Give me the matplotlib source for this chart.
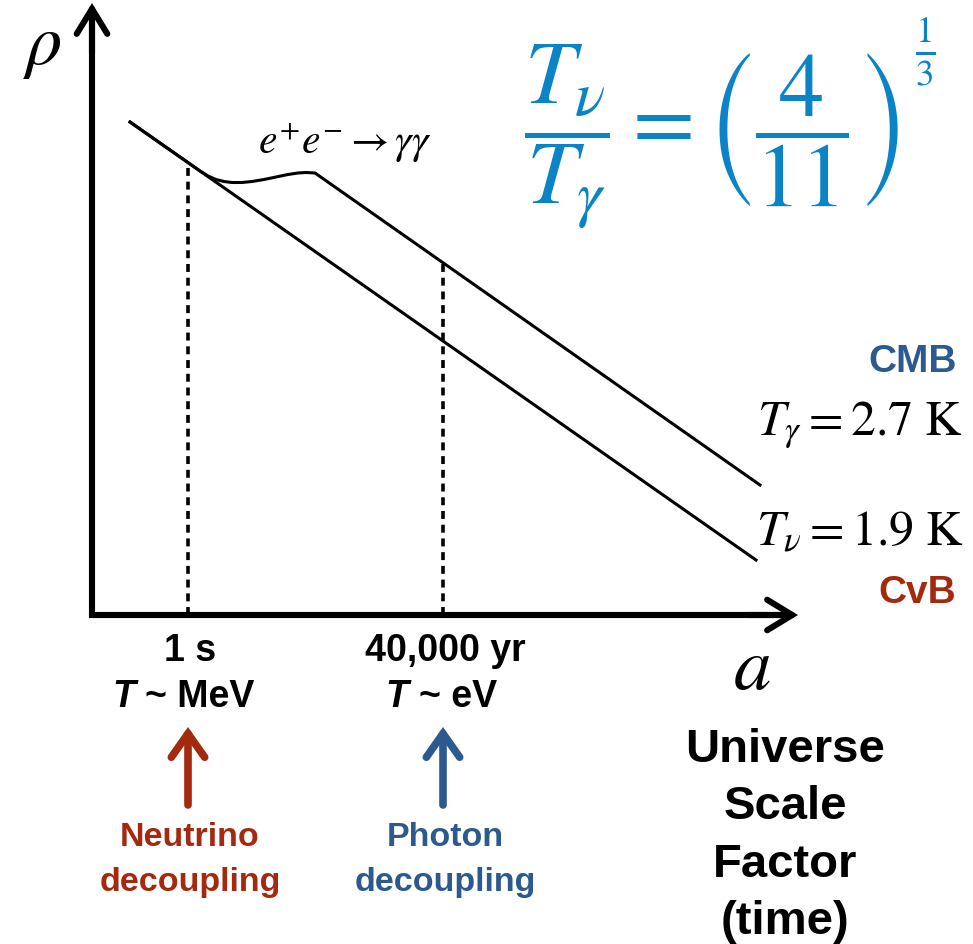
"""Energy density against scale factor for relic photons and neutrinos."""

import matplotlib.pyplot as plt
import numpy as np

plt.rcParams["mathtext.fontset"] = "stix"
plt.rcParams["font.family"] = ["Liberation Sans", "DejaVu Sans"]

# log-scale factor (x) and log-density (y) in arbitrary units
nu_log_a = [0.38, 6.64]
nu_log_rho = [4.93, 0.55]

gamma_log_a = [0.38, 1.08, 1.16, 1.24, 1.32, 1.40, 1.50, 1.60, 1.72,
               1.84, 1.96, 2.06, 2.14, 2.23, 6.68]
gamma_log_rho = [4.93, 4.44, 4.39, 4.355, 4.335, 4.325, 4.325, 4.335, 4.355,
                 4.38, 4.405, 4.42, 4.425, 4.42, 1.30]

decoupling_log_a = [0.96, 3.51]
decoupling_times = ["1 s", "40,000 yr"]
decoupling_temps = ["~ MeV", "~ eV"]
decoupling_names = ["Neutrino\ndecoupling", "Photon\ndecoupling"]
decoupling_colors = ["#a3290f", "#2c5a8e"]
# left edges of the italic "T" and of the "~ ..." part
temp_T_x = [0.20, 2.93]
temp_rest_x = [0.53, 3.27]

today_labels = [r"$T_\gamma = 2.7\ \mathrm{K}$", r"$T_\nu = 1.9\ \mathrm{K}$"]
today_names = ["CMB", "CvB"]

fig = plt.figure(figsize=(9.73, 9.44), dpi=100)
ax = fig.add_axes([0, 0, 1, 1])
ax.set_xlim(-0.92, 8.81)
ax.set_ylim(-3.29, 6.15)
ax.axis("off")

# axes drawn as arrows
x_end, y_end = 7.06, 6.12
ax.plot([0, 0, x_end - 0.1], [y_end - 0.1, 0, 0], color="black", lw=4.4,
        solid_joinstyle="miter", solid_capstyle="butt")
for tip, tail in [((0, y_end), (0, y_end - 0.5)), ((x_end, 0), (x_end - 0.5, 0))]:
    ax.annotate("", xy=tip, xytext=tail,
                arrowprops=dict(arrowstyle="->,head_length=0.9,head_width=0.55",
                                lw=4.4, color="black", mutation_scale=20,
                                shrinkA=0, shrinkB=0, joinstyle="miter"))

# density curves
ax.plot(nu_log_a, nu_log_rho, color="black", lw=2.2)
ax.plot(gamma_log_a, gamma_log_rho, color="black", lw=2.2)

# decoupling markers
tops = [np.interp(decoupling_log_a[0], nu_log_a, nu_log_rho),
        np.interp(decoupling_log_a[1], gamma_log_a, gamma_log_rho)]
for i, xa in enumerate(decoupling_log_a):
    col = decoupling_colors[i]
    ax.plot([xa, xa], [0, tops[i]], color="black", lw=2.6, ls=(0, (2.2, 1.6)))
    ax.text(xa + 0.02, -0.36, decoupling_times[i], ha="center", va="center",
            fontsize=27, fontweight="bold")
    ax.text(temp_T_x[i], -0.82, "T", ha="left", va="center", fontsize=27,
            fontweight="bold", fontstyle="italic")
    ax.text(temp_rest_x[i], -0.82, decoupling_temps[i], ha="left", va="center",
            fontsize=27, fontweight="bold")
    ax.annotate("", xy=(xa, -1.12), xytext=(xa, -1.90),
                arrowprops=dict(arrowstyle="->,head_length=0.85,head_width=0.6",
                                lw=5.5, color=col, mutation_scale=20,
                                shrinkA=0, shrinkB=0, joinstyle="miter"))
    ax.text(xa + 0.02, -2.45, decoupling_names[i], ha="center", va="center",
            fontsize=24.5, fontweight="bold", color=col, linespacing=1.55)

ax.text(-0.5, 5.68, r"$\rho$", ha="center", va="center", fontsize=52)
ax.text(6.6, -0.55, r"$a$", ha="center", va="center", fontsize=54)
ax.text(2.53, 4.72, r"$e^{+}e^{-}\rightarrow\gamma\gamma$", ha="center",
        va="center", fontsize=30)

# neutrino / photon temperature ratio, exponent set as its own piece
ax.text(6.20, 4.78, r"$\dfrac{T_\nu}{T_\gamma}=\left(\dfrac{4}{11}\right)$",
        ha="center", va="center", fontsize=65, color="#0a84c6")
ax.text(8.33, 5.63, r"$\frac{1}{3}$", ha="center", va="center", fontsize=38,
        color="#0a84c6")

ax.text(8.21, 2.53, today_names[0], ha="center", va="center", fontsize=28,
        fontweight="bold", color="#2c5a8e")
ax.text(7.68, 1.90, today_labels[0], ha="center", va="center", fontsize=36)
ax.text(7.68, 0.83, today_labels[1], ha="center", va="center", fontsize=36)
ax.text(8.25, 0.22, today_names[1], ha="center", va="center", fontsize=28,
        fontweight="bold", color="#a3290f")

ax.text(6.93, -2.21, "Universe\nScale\nFactor\n(time)", ha="center", va="center",
        fontsize=34, fontweight="bold", linespacing=1.4)

fig.savefig("out.png", dpi=100)
